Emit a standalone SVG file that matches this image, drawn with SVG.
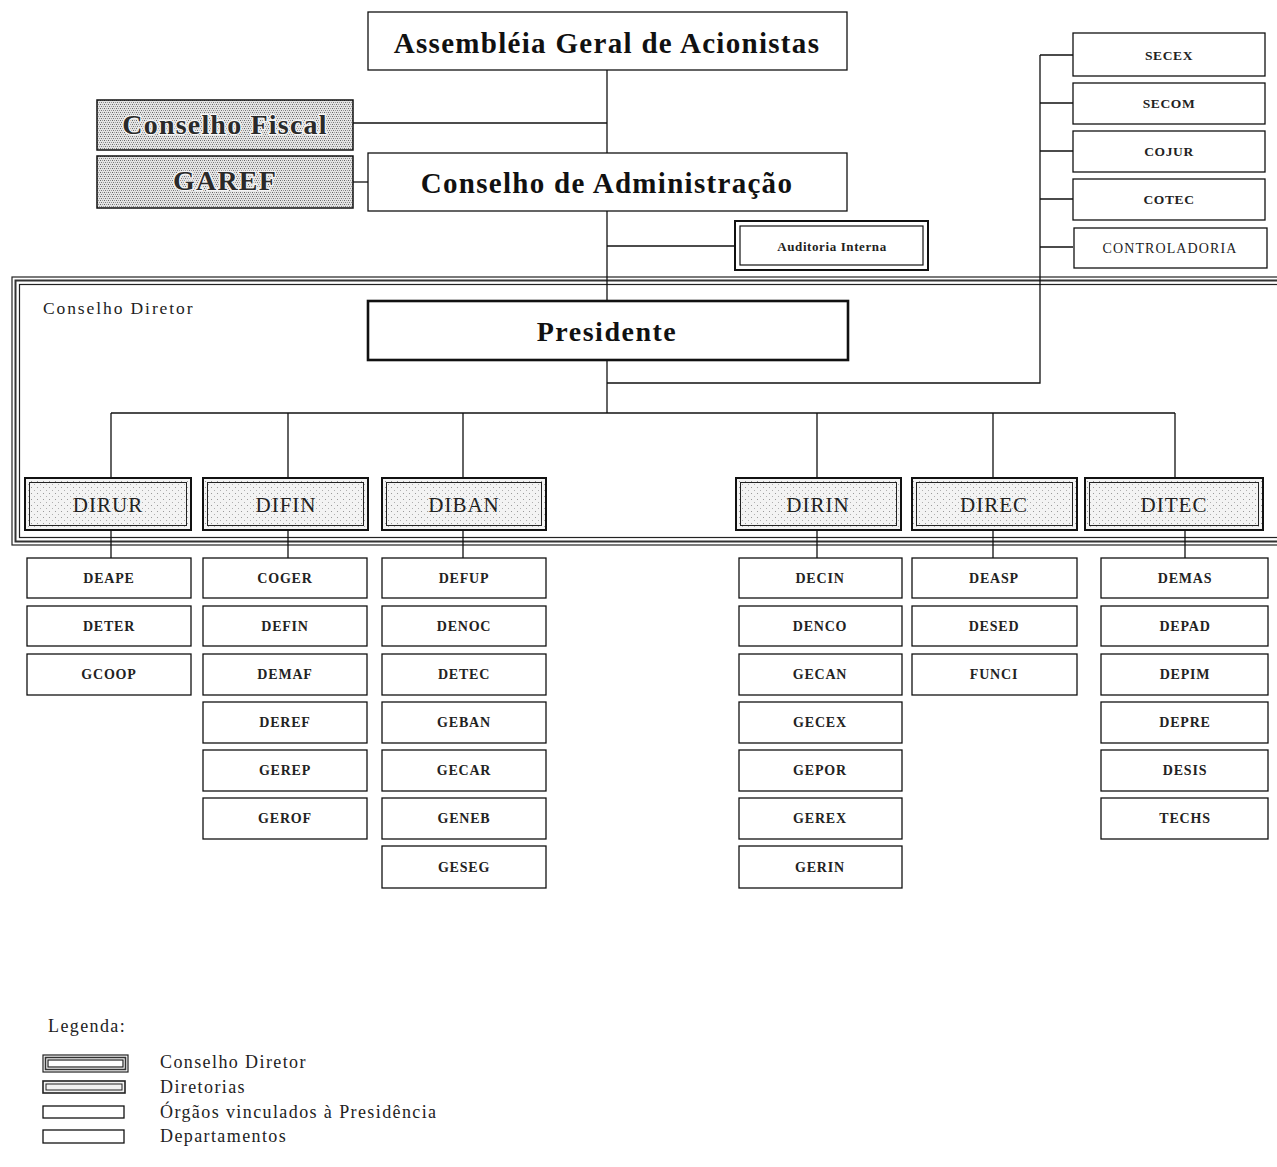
<svg xmlns="http://www.w3.org/2000/svg" width="1277" height="1167" viewBox="0 0 1277 1167">
  <defs>
    <!-- checker fill for the supervisory boards -->
    <pattern id="checker" width="4" height="4" patternUnits="userSpaceOnUse">
      <rect width="4" height="4" fill="#e4e4e4"/>
      <rect x="0" y="0" width="1" height="1" fill="#666"/>
      <rect x="2" y="0" width="1" height="1" fill="#999"/>
      <rect x="1" y="2" width="1" height="1" fill="#777"/>
      <rect x="3" y="2" width="1" height="1" fill="#999"/>
    </pattern>
    <!-- sparse dot fill for the directorates -->
    <pattern id="dots" width="6" height="6" patternUnits="userSpaceOnUse">
      <rect width="6" height="6" fill="#f3f3f3"/>
      <rect x="1" y="1" width="1" height="1" fill="#9a9a9a"/>
      <rect x="4" y="4" width="1" height="1" fill="#b0b0b0"/>
    </pattern>
    <style>
      .box { fill: #fff; stroke: #111; stroke-width: 1.3; }
      .line { fill: none; stroke: #111; stroke-width: 1.3; }
      .big { font-family: "Liberation Serif", "Times New Roman", serif; font-weight: bold; font-size: 29px; fill: #111; text-anchor: middle; letter-spacing: 1.3px; }
      .board { font-family: "Liberation Serif", "Times New Roman", serif; font-weight: bold; font-size: 28px; fill: #2a2a2a; text-anchor: middle; letter-spacing: 1.2px; stroke: #f4f4f4; stroke-width: 2.5px; paint-order: stroke; }
      .dir { font-family: "Liberation Serif", "Times New Roman", serif; font-size: 21px; fill: #222; text-anchor: middle; letter-spacing: 1px; }
      .dept { font-family: "Liberation Serif", "Times New Roman", serif; font-weight: bold; font-size: 14px; fill: #222; text-anchor: middle; letter-spacing: 0.8px; }
      .org { font-family: "Liberation Serif", "Times New Roman", serif; font-weight: bold; font-size: 13.5px; fill: #222; text-anchor: middle; letter-spacing: 0.6px; }
      .plain { font-family: "Liberation Serif", "Times New Roman", serif; font-size: 18px; fill: #222; letter-spacing: 1.4px; }
    </style>
  </defs>

  <rect width="1277" height="1167" fill="#fff"/>

  <!-- Conselho Diretor frame (triple border, open to the right) -->
  <g id="conselho-diretor">
    <rect x="12" y="277" width="1290" height="268" fill="none" stroke="#222" stroke-width="1.2"/>
    <rect x="15.5" y="280.5" width="1290" height="261" fill="none" stroke="#333" stroke-width="2"/>
    <rect x="19.5" y="284.5" width="1290" height="253" fill="none" stroke="#222" stroke-width="1.2"/>
    <text class="plain" x="43" y="314" style="font-size:17.5px;letter-spacing:1.9px">Conselho Diretor</text>
  </g>

  <!-- connectors -->
  <g id="connectors" class="line">
    <path d="M607 70 V300"/>
    <path d="M353 123 H607"/>
    <path d="M353 182 H368"/>
    <path d="M607 246 H736"/>
    <path d="M607 360 V413"/>
    <path d="M607 383 H1040 V55"/>
    <path d="M1040 55 H1073 M1040 103 H1073 M1040 151 H1073 M1040 199 H1073 M1040 247 H1073"/>
    <path d="M111 413 H1175"/>
    <path d="M111 413 V478 M288 413 V478 M463 413 V478 M817 413 V478 M993 413 V478 M1175 413 V478"/>
    <path d="M111 530 V558 M288 530 V558 M463 530 V558 M817 530 V558 M993 530 V558 M1185 530 V558"/>
  </g>

  <!-- top governance -->
  <g id="assembleia">
    <rect class="box" x="368" y="12" width="479" height="58"/>
    <text class="big" x="607" y="53">Assembléia Geral de Acionistas</text>
  </g>
  <g id="conselho-fiscal">
    <rect x="97" y="100" width="256" height="50" fill="url(#checker)" stroke="#111" stroke-width="1.5"/>
    <text class="board" x="225" y="134">Conselho Fiscal</text>
  </g>
  <g id="garef">
    <rect x="97" y="156" width="256" height="52" fill="url(#checker)" stroke="#111" stroke-width="1.5"/>
    <text class="board" x="225" y="190">GAREF</text>
  </g>
  <g id="conselho-administracao">
    <rect class="box" x="368" y="153" width="479" height="58"/>
    <text class="big" x="607" y="193">Conselho de Administração</text>
  </g>
  <g id="auditoria-interna">
    <rect x="735" y="221" width="193" height="49" fill="#fff" stroke="#111" stroke-width="2"/>
    <rect x="740" y="226" width="183" height="39" fill="none" stroke="#111" stroke-width="1.2"/>
    <text x="832" y="251" font-family="Liberation Serif, serif" font-weight="bold" font-size="13" letter-spacing="0.6" fill="#222" text-anchor="middle">Auditoria Interna</text>
  </g>
  <g id="presidente">
    <rect x="368" y="301" width="480" height="59" fill="#fff" stroke="#111" stroke-width="2.6"/>
    <text class="big" x="607" y="341" style="font-size:28px;letter-spacing:1.5px">Presidente</text>
  </g>

  <!-- bodies attached to the presidency -->
  <g id="secex"><rect class="box" x="1073" y="33" width="192" height="43"/><text class="org" x="1169" y="60">SECEX</text></g>
  <g id="secom"><rect class="box" x="1073" y="83" width="192" height="41"/><text class="org" x="1169" y="108">SECOM</text></g>
  <g id="cojur"><rect class="box" x="1073" y="131" width="192" height="41"/><text class="org" x="1169" y="156">COJUR</text></g>
  <g id="cotec"><rect class="box" x="1073" y="179" width="192" height="41"/><text class="org" x="1169" y="204">COTEC</text></g>
  <g id="controladoria"><rect class="box" x="1074" y="228" width="193" height="40"/><text class="org" x="1170" y="253" style="font-weight:normal;font-size:14px;letter-spacing:1.1px">CONTROLADORIA</text></g>

  <!-- directorates -->
  <g id="dirur"><rect x="25" y="478" width="166" height="52" fill="url(#dots)" stroke="#111" stroke-width="2"/><rect x="29.5" y="482.5" width="157" height="43" fill="none" stroke="#222" stroke-width="1"/><text class="dir" x="108" y="512">DIRUR</text></g>
  <g id="difin"><rect x="203" y="478" width="165" height="52" fill="url(#dots)" stroke="#111" stroke-width="2"/><rect x="207.5" y="482.5" width="156" height="43" fill="none" stroke="#222" stroke-width="1"/><text class="dir" x="286" y="512">DIFIN</text></g>
  <g id="diban"><rect x="382" y="478" width="164" height="52" fill="url(#dots)" stroke="#111" stroke-width="2"/><rect x="386.5" y="482.5" width="155" height="43" fill="none" stroke="#222" stroke-width="1"/><text class="dir" x="464" y="512">DIBAN</text></g>
  <g id="dirin"><rect x="736" y="478" width="165" height="52" fill="url(#dots)" stroke="#111" stroke-width="2"/><rect x="740.5" y="482.5" width="156" height="43" fill="none" stroke="#222" stroke-width="1"/><text class="dir" x="818" y="512">DIRIN</text></g>
  <g id="direc"><rect x="912" y="478" width="165" height="52" fill="url(#dots)" stroke="#111" stroke-width="2"/><rect x="916.5" y="482.5" width="156" height="43" fill="none" stroke="#222" stroke-width="1"/><text class="dir" x="994" y="512">DIREC</text></g>
  <g id="ditec"><rect x="1085" y="478" width="178" height="52" fill="url(#dots)" stroke="#111" stroke-width="2"/><rect x="1089.5" y="482.5" width="169" height="43" fill="none" stroke="#222" stroke-width="1"/><text class="dir" x="1174" y="512">DITEC</text></g>

  <!-- departments: DIRUR -->
  <g id="deape"><rect class="box" x="27" y="558" width="164" height="40"/><text class="dept" x="109" y="583">DEAPE</text></g>
  <g id="deter"><rect class="box" x="27" y="606" width="164" height="40"/><text class="dept" x="109" y="631">DETER</text></g>
  <g id="gcoop"><rect class="box" x="27" y="654" width="164" height="41"/><text class="dept" x="109" y="679">GCOOP</text></g>

  <!-- departments: DIFIN -->
  <g id="coger"><rect class="box" x="203" y="558" width="164" height="40"/><text class="dept" x="285" y="583">COGER</text></g>
  <g id="defin"><rect class="box" x="203" y="606" width="164" height="40"/><text class="dept" x="285" y="631">DEFIN</text></g>
  <g id="demaf"><rect class="box" x="203" y="654" width="164" height="41"/><text class="dept" x="285" y="679">DEMAF</text></g>
  <g id="deref"><rect class="box" x="203" y="702" width="164" height="41"/><text class="dept" x="285" y="727">DEREF</text></g>
  <g id="gerep"><rect class="box" x="203" y="750" width="164" height="41"/><text class="dept" x="285" y="775">GEREP</text></g>
  <g id="gerof"><rect class="box" x="203" y="798" width="164" height="41"/><text class="dept" x="285" y="823">GEROF</text></g>

  <!-- departments: DIBAN -->
  <g id="defup"><rect class="box" x="382" y="558" width="164" height="40"/><text class="dept" x="464" y="583">DEFUP</text></g>
  <g id="denoc"><rect class="box" x="382" y="606" width="164" height="40"/><text class="dept" x="464" y="631">DENOC</text></g>
  <g id="detec"><rect class="box" x="382" y="654" width="164" height="41"/><text class="dept" x="464" y="679">DETEC</text></g>
  <g id="geban"><rect class="box" x="382" y="702" width="164" height="41"/><text class="dept" x="464" y="727">GEBAN</text></g>
  <g id="gecar"><rect class="box" x="382" y="750" width="164" height="41"/><text class="dept" x="464" y="775">GECAR</text></g>
  <g id="geneb"><rect class="box" x="382" y="798" width="164" height="41"/><text class="dept" x="464" y="823">GENEB</text></g>
  <g id="geseg"><rect class="box" x="382" y="846" width="164" height="42"/><text class="dept" x="464" y="872">GESEG</text></g>

  <!-- departments: DIRIN -->
  <g id="decin"><rect class="box" x="739" y="558" width="163" height="40"/><text class="dept" x="820" y="583">DECIN</text></g>
  <g id="denco"><rect class="box" x="739" y="606" width="163" height="40"/><text class="dept" x="820" y="631">DENCO</text></g>
  <g id="gecan"><rect class="box" x="739" y="654" width="163" height="41"/><text class="dept" x="820" y="679">GECAN</text></g>
  <g id="gecex"><rect class="box" x="739" y="702" width="163" height="41"/><text class="dept" x="820" y="727">GECEX</text></g>
  <g id="gepor"><rect class="box" x="739" y="750" width="163" height="41"/><text class="dept" x="820" y="775">GEPOR</text></g>
  <g id="gerex"><rect class="box" x="739" y="798" width="163" height="41"/><text class="dept" x="820" y="823">GEREX</text></g>
  <g id="gerin"><rect class="box" x="739" y="846" width="163" height="42"/><text class="dept" x="820" y="872">GERIN</text></g>

  <!-- departments: DIREC -->
  <g id="deasp"><rect class="box" x="912" y="558" width="165" height="40"/><text class="dept" x="994" y="583">DEASP</text></g>
  <g id="desed"><rect class="box" x="912" y="606" width="165" height="40"/><text class="dept" x="994" y="631">DESED</text></g>
  <g id="funci"><rect class="box" x="912" y="654" width="165" height="41"/><text class="dept" x="994" y="679">FUNCI</text></g>

  <!-- departments: DITEC -->
  <g id="demas"><rect class="box" x="1101" y="558" width="167" height="40"/><text class="dept" x="1185" y="583">DEMAS</text></g>
  <g id="depad"><rect class="box" x="1101" y="606" width="167" height="40"/><text class="dept" x="1185" y="631">DEPAD</text></g>
  <g id="depim"><rect class="box" x="1101" y="654" width="167" height="41"/><text class="dept" x="1185" y="679">DEPIM</text></g>
  <g id="depre"><rect class="box" x="1101" y="702" width="167" height="41"/><text class="dept" x="1185" y="727">DEPRE</text></g>
  <g id="desis"><rect class="box" x="1101" y="750" width="167" height="41"/><text class="dept" x="1185" y="775">DESIS</text></g>
  <g id="techs"><rect class="box" x="1101" y="798" width="167" height="41"/><text class="dept" x="1185" y="823">TECHS</text></g>

  <!-- legend -->
  <g id="legend">
    <text class="plain" x="48" y="1032">Legenda:</text>
    <rect x="43" y="1055" width="85" height="17" fill="none" stroke="#222" stroke-width="1.2"/>
    <rect x="45.5" y="1057.5" width="80" height="12" fill="none" stroke="#333" stroke-width="1.6"/>
    <rect x="48" y="1060" width="75" height="7" fill="none" stroke="#222" stroke-width="1.2"/>
    <text class="plain" x="160" y="1068">Conselho Diretor</text>
    <rect x="43" y="1081" width="82" height="12" fill="#f2f2f2" stroke="#222" stroke-width="1.6"/>
    <rect x="46" y="1084" width="76" height="6" fill="none" stroke="#222" stroke-width="1"/>
    <text class="plain" x="160" y="1093">Diretorias</text>
    <rect class="box" x="43" y="1106" width="81" height="12"/>
    <text class="plain" x="160" y="1118">Órgãos vinculados à Presidência</text>
    <rect class="box" x="43" y="1130" width="81" height="13"/>
    <text class="plain" x="160" y="1142">Departamentos</text>
  </g>
</svg>
